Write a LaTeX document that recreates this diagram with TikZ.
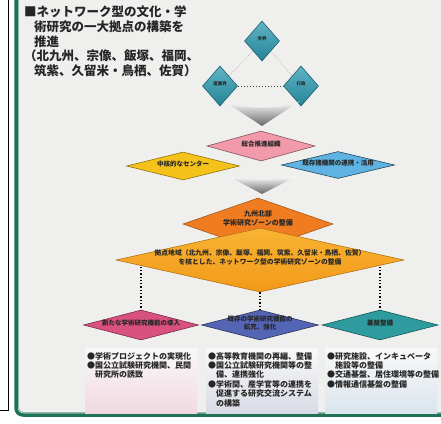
\documentclass[tikz,border=0pt]{standalone}
\usepackage{fontspec}
\newfontfamily\jp{Noto Sans CJK JP}
\usetikzlibrary{positioning,shapes.geometric,backgrounds}

\definecolor{paper}{HTML}{EFEFED}
\definecolor{frame}{HTML}{1E7356}
\definecolor{pyracol}{HTML}{2B9BB2}
\definecolor{pinkdia}{HTML}{F29AAB}
\definecolor{yellowdia}{HTML}{F5C21B}
\definecolor{bluedia}{HTML}{5FB3E3}
\definecolor{orangedia}{HTML}{F07C22}
\definecolor{zonetop}{HTML}{F8B333}
\definecolor{zonebot}{HTML}{F39A1A}
\definecolor{newdia}{HTML}{D9517E}
\definecolor{extdia}{HTML}{5565B5}
\definecolor{basedia}{HTML}{2E9C9E}
\definecolor{newbox}{HTML}{F2D8E2}
\definecolor{extbox}{HTML}{D8DBE6}
\definecolor{basebox}{HTML}{DBE5EE}

% text that does not change the size of its diamond
\newcommand{\flatlabel}[1]{\makebox[0pt]{\smash{\begin{tabular}{@{}c@{}}#1\end{tabular}}}}

\begin{document}
\begin{tikzpicture}[x=1pt,y=-1pt,
  dia/.style={diamond, inner sep=0pt, line width=0.6pt, text=black!85,
    font=\jp\bfseries\fontsize{6.5}{7.5}\selectfont},
  pyra/.style={dia, minimum width=35pt, minimum height=40pt,
    top color=pyracol!75!white, bottom color=pyracol!85!black, draw=pyracol!60!black,
    font=\jp\bfseries\fontsize{4.5}{5}\selectfont},
  stage/.style={dia, minimum width=113pt, minimum height=28pt},
  memo/.style={anchor=north west, inner sep=0pt, align=left, text=black!85,
    font=\jp\bfseries\fontsize{8}{9.4}\selectfont},
  memobox/.style={anchor=north west, inner sep=0pt, minimum width=112pt, minimum height=65pt},
  chevron/.style={top color=white, bottom color=black!60},
  link/.style={dotted, line width=1.3pt}
]
\useasboundingbox (0,0) rectangle (441,423);

\begin{scope}[on background layer]
  \fill[white] (0,0) rectangle (441,423);
  \fill[paper] (16,0) rectangle (441,415);
\end{scope}

% frames
\draw[line width=1pt] (0,410) -- (8,410) -- (8,-2);
\draw[frame, line width=3.5pt, rounded corners=7pt] (16,-5) -- (16,415) -- (446,415);
\draw[frame!50!white, line width=0.8pt, rounded corners=5pt] (18.5,-5) -- (18.5,412.5) -- (446,412.5);

% title
\node[anchor=north west, inner sep=0pt, align=left, text=black!85,
  font=\jp\bfseries\fontsize{12.5}{14.6}\selectfont] (head) at (24,6)
  {■ネットワーク型の文化・学\\
   \hspace*{0.8em}術研究の一大拠点の構築を\\
   \hspace*{0.8em}推進\\
   （北九州、宗像、飯塚、福岡、\\
   \hspace*{0.8em}筑紫、久留米・鳥栖、佐賀）};

% three partners
\node[pyra] (acad) at (262,41) {\flatlabel{学界}};
\node[pyra] (ind) at (220,86) {\flatlabel{産業界}};
\node[pyra] (gov) at (301,86) {\flatlabel{行政}};
\draw[dotted, line width=0.8pt, black!30] (acad) -- (ind);
\draw[dotted, line width=0.8pt, black!30] (acad) -- (gov);
\draw[dotted, line width=1pt, black!75] (ind) -- (gov);

\shade[chevron] (224,101) .. controls (240,110) and (284,110) .. (300,101) -- (262,126) -- cycle;

% organisations
\node[stage, fill=pinkdia, draw=pinkdia!55!black, minimum width=108pt, minimum height=30pt]
  (org) at (261,146) {\flatlabel{総合推進組織}};
\node[stage, fill=yellowdia, draw=yellowdia!60!black] (core) at (183,166)
  {\flatlabel{中核的なセンター}};
\node[stage, fill=bluedia, draw=bluedia!40!black, minimum height=27pt] (coop) at (338,165)
  {\flatlabel{既存諸機関の連携・活用}};

\shade[chevron] (228,176) .. controls (245,181) and (280,181) .. (297,176) -- (262,194) -- cycle;

% zone
\node[dia, fill=orangedia, draw=orangedia!70!black, minimum width=150pt, minimum height=52pt,
  font=\jp\bfseries\fontsize{7}{8.5}\selectfont]
  (kyushu) at (258,224) {\raisebox{6pt}{\flatlabel{九州北部\\学術研究ゾーンの整備}}};
\node[dia, top color=zonetop, bottom color=zonebot, draw=zonebot!75!black,
  minimum width=288pt, minimum height=64pt, font=\jp\bfseries\fontsize{6.8}{8.8}\selectfont]
  (zone) at (260,260)
  {\flatlabel{拠点地域（北九州、宗像、飯塚、福岡、筑紫、久留米・鳥栖、佐賀）\\
   を核とした、ネットワーク型の学術研究ゾーンの整備}};

% measures
\node[stage, fill=newdia, draw=newdia!55!black, minimum width=115pt, minimum height=30pt]
  (newfn) at (141,325) {\flatlabel{新たな学術研究機能の導入}};
\node[stage, fill=extdia, draw=extdia!50!black, minimum width=117pt, minimum height=30pt]
  (extfn) at (260,325) {\flatlabel{既存の学術研究機能の\\拡充、強化}};
\node[stage, fill=basedia, draw=basedia!55!black, minimum width=116pt, minimum height=30pt]
  (basefn) at (380,325) {\flatlabel{基盤整備}};

\begin{scope}[on background layer]
  \draw[link] (newfn.north |- zone.west) -- (newfn.north);
  \draw[link] (zone.south) -- (extfn.north);
  \draw[link] (basefn.north |- zone.east) -- (basefn.north);
\end{scope}

% notes
\node[memobox, top color=paper!40!white, bottom color=newbox] (newcell) at (85,348) {};
\node[memobox, top color=paper!40!white, bottom color=extbox] (extcell) at (206,348) {};
\node[memobox, top color=paper!40!white, bottom color=basebox] (basecell) at (325,348) {};

\node[memo] (newmemo) at ([shift={(2,4)}]newcell.north west)
  {●学術プロジェクトの実現化\\
   ●国公立試験研究機関、民間\\
   \hspace*{1em}研究所の誘致};
\node[memo] (extmemo) at ([shift={(2,4)}]extcell.north west)
  {●高等教育機関の再編、整備\\
   ●国公立試験研究機関等の整\\
   \hspace*{1em}備、連携強化\\
   ●学術間、産学官等の連携を\\
   \hspace*{1em}促進する研究交流システム\\
   \hspace*{1em}の構築};
\node[memo] (basememo) at ([shift={(2,4)}]basecell.north west)
  {●研究施設、インキュベータ\\
   \hspace*{1em}施設等の整備\\
   ●交通基盤、居住環境等の整備\\
   ●情報通信基盤の整備};

\end{tikzpicture}
\end{document}
